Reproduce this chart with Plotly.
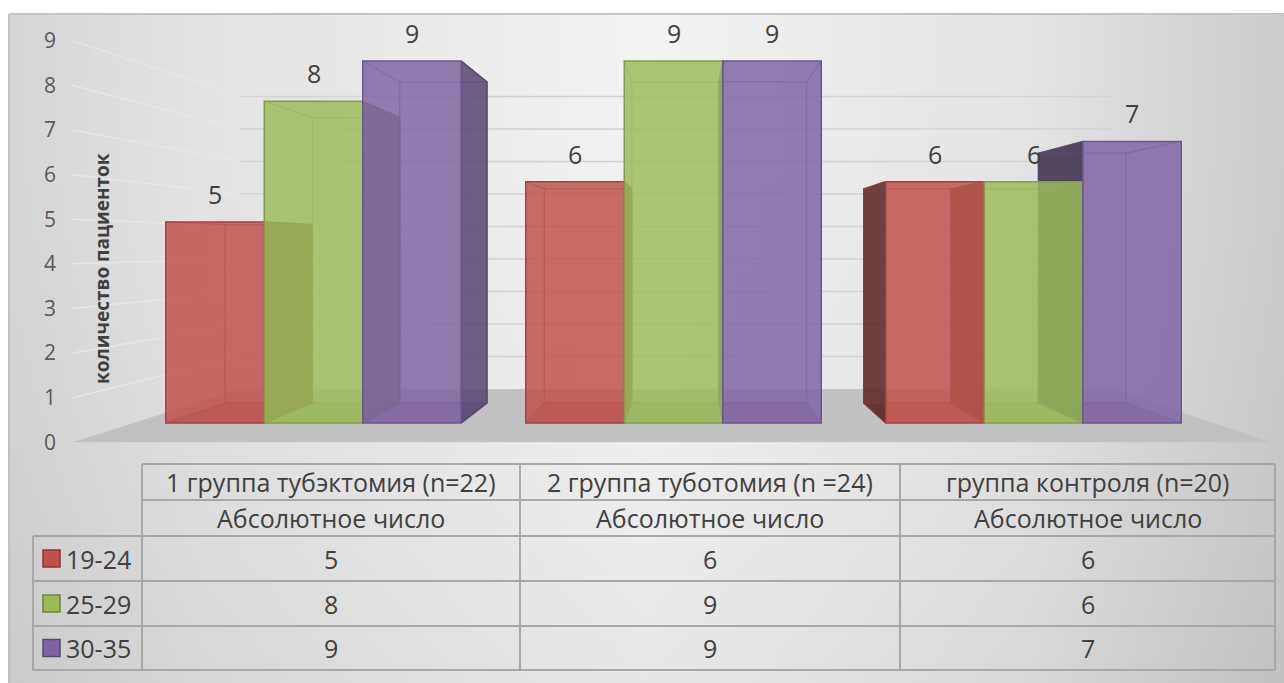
import plotly.graph_objects as go

# ---- data -------------------------------------------------------------
groups = ["1 группа тубэктомия (n=22)", "2 группа туботомия (n =24)", "группа контроля (n=20)"]
subheader = "Абсолютное число"
age_bands = ["19-24", "25-29", "30-35"]
counts_19_24 = [5, 6, 6]
counts_25_29 = [8, 9, 6]
counts_30_35 = [9, 9, 7]
y_ticks = [0, 1, 2, 3, 4, 5, 6, 7, 8, 9]
axis_title = "количество пациенток"

series = [counts_19_24, counts_25_29, counts_30_35]
base_rgb = [(192, 80, 77), (155, 187, 89), (128, 100, 162)]

# ---- page geometry (pixels) ------------------------------------------
W, H = 1284, 683
PX_LEFT, PX_RIGHT = 133.5, 1213.5      # x of category range [-0.5, 2.5] on the column front plane
PX_ZERO, PX_MAX = 423.0, 61.0          # y of value 0 and 9 on the column front plane
PPX = (PX_RIGHT - PX_LEFT) / 3.0
PPY = (PX_ZERO - PX_MAX) / 9.0


def dx(px):
    return -0.5 + (px - PX_LEFT) / PPX


def dy(py):
    return (PX_ZERO - py) / PPY


# perspective: vanishing point and relative depth scales
VX, VY = dx(690.0), dy(246.0)
S_FRONT = 1.109      # front edge of floor / wall (tick labels)
S_BAR_BACK = 0.887   # back faces of the columns
S_WALL = 0.808       # back wall


def proj(x, y, s):
    return VX + s * (x - VX), VY + s * (y - VY)


def rgba(rgb, a, k=1.0):
    r, g, b = (int(max(0, min(255, c * k))) for c in rgb)
    return f"rgba({r},{g},{b},{a})"


BAR_W = 98.5 / PPX
FONT = "Open Sans"
TXT = "#404040"

fig = go.Figure()

# ---- chart area background ------------------------------------------
bx = [dx(9), dx(W + 2), dx(W + 2), dx(9), dx(9)]
by = [dy(14), dy(14), dy(H + 2), dy(H + 2), dy(14)]
fig.add_trace(go.Scatter(
    x=bx, y=by, mode="lines", fill="toself",
    line=dict(color="#c4c4c4", width=2),
    fillgradient=dict(type="horizontal",
                      colorscale=[[0, "#d5d5d5"], [0.15, "#e2e2e2"], [0.5, "#f3f3f3"],
                                  [0.8, "#e3e3e3"], [1, "#cbcbcb"]]),
    hoverinfo="skip", showlegend=False, zorder=-11))
fig.add_trace(go.Scatter(
    x=bx, y=by, mode="lines", fill="toself", line=dict(width=0),
    fillgradient=dict(type="vertical",
                      colorscale=[[0, "rgba(0,0,0,0.05)"], [1, "rgba(255,255,255,0)"]]),
    hoverinfo="skip", showlegend=False, zorder=-10))

# ---- floor ------------------------------------------------------------
fl = [proj(-0.5, 0, S_FRONT), proj(2.5, 0, S_FRONT), proj(2.5, 0, S_WALL), proj(-0.5, 0, S_WALL)]
fl.append(fl[0])
fig.add_trace(go.Scatter(
    x=[p[0] for p in fl], y=[p[1] for p in fl], mode="lines", fill="toself",
    fillcolor="#c1c1c1", line=dict(width=0), hoverinfo="skip", showlegend=False, zorder=-9))

# ---- wall gridlines ----------------------------------------------------
for v in y_ticks[1:]:
    a = proj(-0.5, v, S_FRONT)
    b = proj(-0.5, v, S_WALL)
    c = proj(2.5, v, S_WALL)
    fig.add_trace(go.Scatter(x=[a[0], b[0]], y=[a[1], b[1]], mode="lines",
                             line=dict(color="#e6e6e6", width=1.5),
                             hoverinfo="skip", showlegend=False, zorder=-8))
    fig.add_trace(go.Scatter(x=[b[0], c[0]], y=[b[1], c[1]], mode="lines",
                             line=dict(color="#d2d2d2", width=1.5),
                             hoverinfo="skip", showlegend=False, zorder=-8))

# ---- column bodies (back edges, side and bottom faces) ---------------
for i, vals in enumerate(series):
    rgb = base_rgb[i]
    for g, v in enumerate(vals):
        cx = g + (i - 1) * BAR_W
        x0, x1 = cx - BAR_W / 2, cx + BAR_W / 2
        fb = [(x0, 0), (x1, 0), (x1, v), (x0, v)]
        bk = [proj(px, py, S_BAR_BACK) for px, py in fb]

        # bottom face
        poly = [fb[0], fb[1], bk[1], bk[0], fb[0]]
        fig.add_trace(go.Scatter(x=[p[0] for p in poly], y=[p[1] for p in poly],
                                 mode="lines", fill="toself", fillcolor=rgba(rgb, 0.35, 0.8),
                                 line=dict(width=0), hoverinfo="skip", showlegend=False, zorder=-5))
        # outer side face
        if x1 < VX:
            poly = [fb[1], fb[2], bk[2], bk[1], fb[1]]
            fc = rgba(rgb, 0.85, 0.68)
        elif x0 > VX:
            poly = [fb[0], fb[3], bk[3], bk[0], fb[0]]
            fc = rgba(rgb, 0.85, 0.45)
        else:
            poly = None
        if poly:
            fig.add_trace(go.Scatter(x=[p[0] for p in poly], y=[p[1] for p in poly],
                                     mode="lines", fill="toself", fillcolor=fc,
                                     line=dict(color=rgba(rgb, 0.9, 0.6), width=1.2),
                                     hoverinfo="skip", showlegend=False, zorder=-4))
        # back face outline and depth edges
        ex, ey = [], []
        loop = bk + [bk[0]]
        ex += [p[0] for p in loop] + [None]
        ey += [p[1] for p in loop] + [None]
        for f, b in zip(fb, bk):
            ex += [f[0], b[0], None]
            ey += [f[1], b[1], None]
        fig.add_trace(go.Scatter(x=ex, y=ey, mode="lines",
                                 line=dict(color=rgba(rgb, 0.55, 0.75), width=1.3),
                                 hoverinfo="skip", showlegend=False, zorder=-3))

# ---- column front faces -------------------------------------------------
for i, vals in enumerate(series):
    rgb = base_rgb[i]
    xs = [g + (i - 1) * BAR_W for g in range(len(groups))]
    fig.add_trace(go.Bar(
        x=xs, y=vals, width=BAR_W, name=age_bands[i],
        marker=dict(color=rgba(rgb, 0.84), line=dict(color=rgba(rgb, 1, 0.85), width=1.5)),
        hoverinfo="skip", showlegend=False, zorder=0))

# value labels
for i, vals in enumerate(series):
    for g, v in enumerate(vals):
        fig.add_annotation(x=g + (i - 1) * BAR_W, y=v, text=str(v), showarrow=False,
                           yanchor="bottom", yshift=9,
                           font=dict(family=FONT, size=25, color=TXT))

# tick labels on the front edge of the left wall
fig.add_trace(go.Scatter(x=[0] * len(y_ticks), y=y_ticks, xaxis="x2", yaxis="y2",
                         mode="markers", marker=dict(opacity=0), hoverinfo="skip",
                         showlegend=False))

# axis title
fig.add_annotation(x=102 / W, y=1 - 269 / H, xref="paper", yref="paper",
                   xanchor="center", yanchor="middle",
                   text=axis_title, textangle=-90, showarrow=False,
                   font=dict(family=FONT, size=19, color=TXT, weight="bold"))

# ---- data table (grid lines, legend keys and cell texts) -----------------
col_edges = [33, 142, 520, 900, 1275]
row_edges = [464, 500, 536, 581, 626, 670]
grid = "#a8a8a8"


def px_x(p):
    return p / W


def px_y(p):
    return 1 - p / H


shapes = []


def hline(y, xa, xb):
    shapes.append(dict(type="line", xref="paper", yref="paper", x0=px_x(xa), x1=px_x(xb),
                       y0=px_y(y), y1=px_y(y), line=dict(color=grid, width=2)))


def vline(x, ya, yb):
    shapes.append(dict(type="line", xref="paper", yref="paper", x0=px_x(x), x1=px_x(x),
                       y0=px_y(ya), y1=px_y(yb), line=dict(color=grid, width=2)))


for r, y in enumerate(row_edges):
    hline(y, col_edges[0] if r >= 2 else col_edges[1], col_edges[-1])
for c, x in enumerate(col_edges):
    vline(x, row_edges[0] if c >= 1 else row_edges[2], row_edges[-1])

table_font = dict(family=FONT, size=25, color=TXT)
for g in range(len(groups)):
    xc = px_x((col_edges[g + 1] + col_edges[g + 2]) / 2)
    for r, txt in enumerate([groups[g], subheader]):
        yc = px_y((row_edges[r] + row_edges[r + 1]) / 2)
        fig.add_annotation(x=xc, y=yc, xref="paper", yref="paper", text=txt,
                           showarrow=False, xanchor="center", yanchor="middle", font=table_font)
    for i in range(len(series)):
        yc = px_y((row_edges[i + 2] + row_edges[i + 3]) / 2)
        fig.add_annotation(x=xc, y=yc, xref="paper", yref="paper", text=str(series[i][g]),
                           showarrow=False, xanchor="center", yanchor="middle", font=table_font)

for i, band in enumerate(age_bands):
    ymid = (row_edges[i + 2] + row_edges[i + 3]) / 2
    shapes.append(dict(type="rect", xref="paper", yref="paper",
                       x0=px_x(43), x1=px_x(60), y0=px_y(ymid + 8.5), y1=px_y(ymid - 8.5),
                       fillcolor=rgba(base_rgb[i], 1), line=dict(color=rgba(base_rgb[i], 1, 0.7), width=1.5)))
    fig.add_annotation(x=px_x(64), y=px_y(ymid), xref="paper", yref="paper", text=band,
                       showarrow=False, xanchor="left", yanchor="middle", font=table_font)

fig.update_layout(
    width=W, height=H, autosize=False,
    margin=dict(l=0, r=0, t=0, b=0, pad=0, autoexpand=False),
    paper_bgcolor="white", plot_bgcolor="rgba(0,0,0,0)",
    barmode="overlay",
    shapes=shapes,
    xaxis=dict(domain=[0, 1], range=[dx(0), dx(W)], visible=False, fixedrange=True,
               automargin=False),
    yaxis=dict(domain=[0, 1], range=[dy(H), dy(0)], visible=False, fixedrange=True,
               automargin=False),
    xaxis2=dict(domain=[57 / W, 60 / W], anchor="y2", visible=False, fixedrange=True,
                automargin=False),
    yaxis2=dict(domain=[1 - 442.3 / H, 1 - 40.8 / H], range=[0, 9], anchor="x2",
                tickvals=y_ticks, showgrid=False, zeroline=False, showline=False,
                ticks="", tickfont=dict(family=FONT, size=21, color="#595959"),
                fixedrange=True, automargin=False),
    showlegend=False,
)

fig.write_html("out.html")
